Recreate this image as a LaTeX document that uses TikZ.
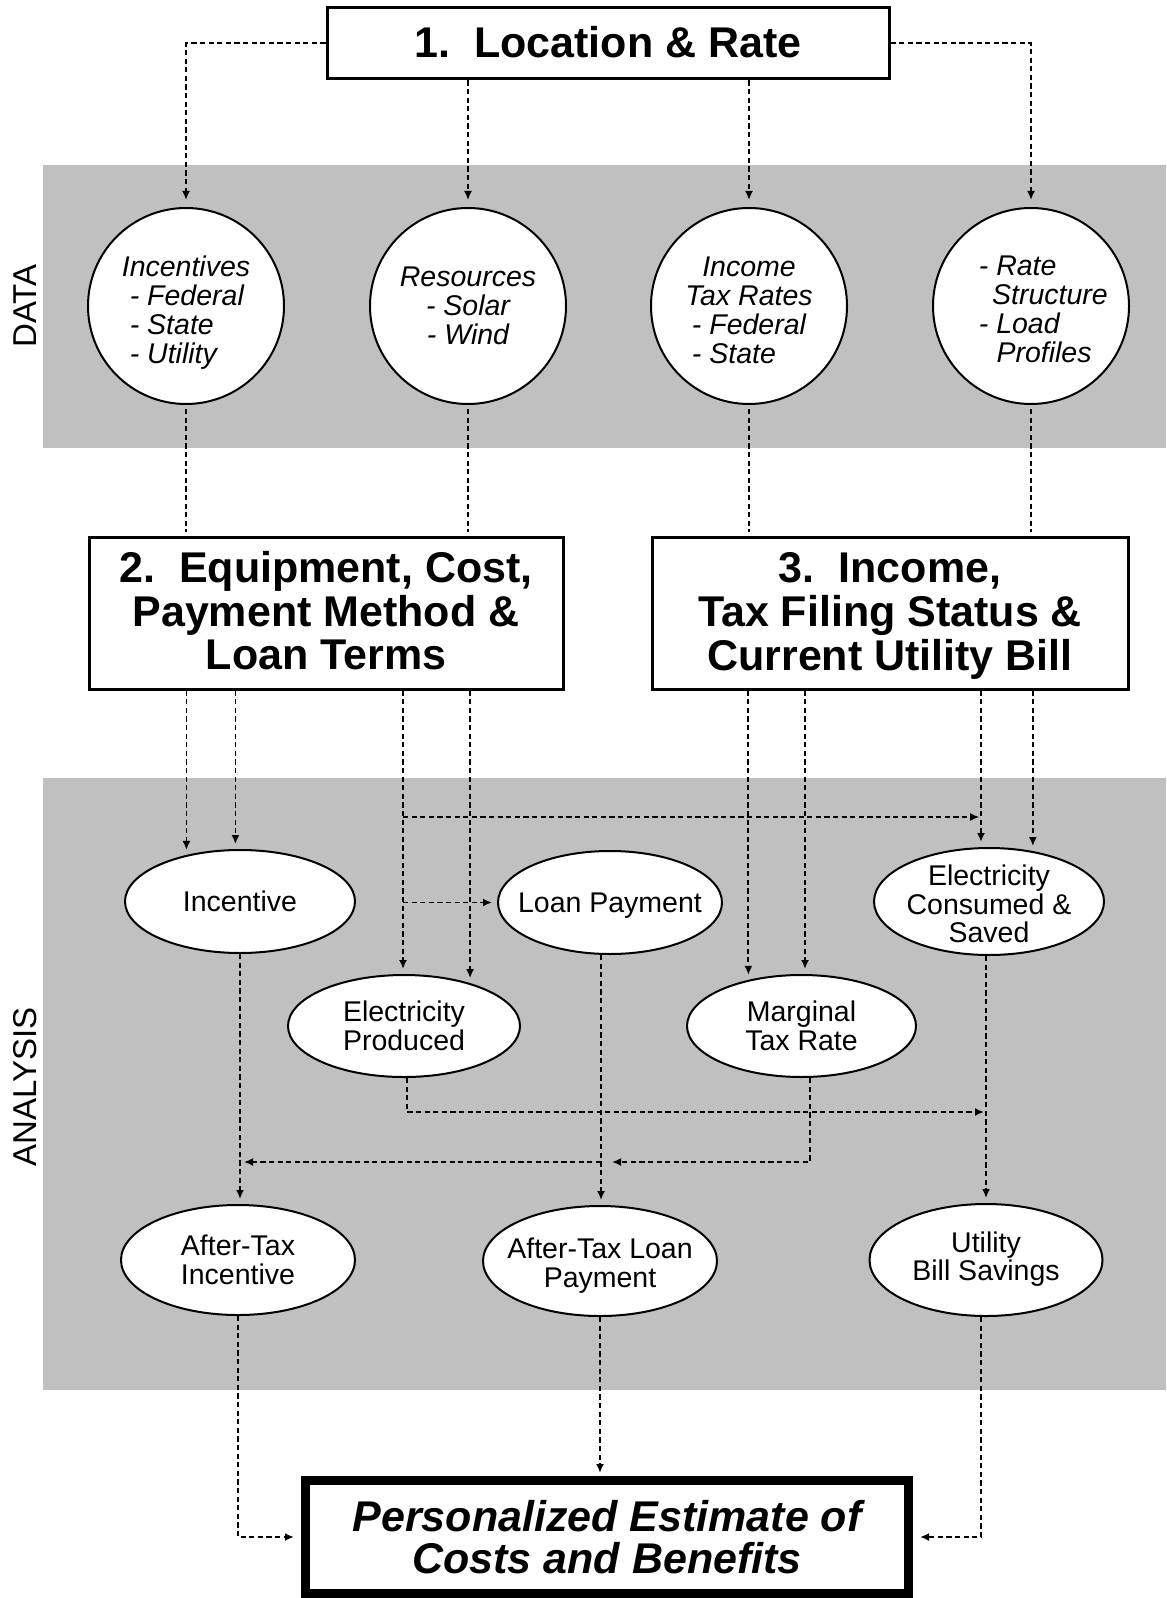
\documentclass[tikz,border=0pt]{standalone}
\usepackage{fontspec}
\setmainfont{Liberation Sans}
\usetikzlibrary{arrows.meta,shapes.geometric}
\definecolor{bandgray}{RGB}{192,192,192}
\begin{document}
\begin{tikzpicture}[x=0.5pt,y=-0.5pt,
  conn/.style={line width=0.9pt, dash pattern=on 2.6pt off 1.7pt},
  arr/.style={conn, -{Latex[length=4.5pt,width=4pt]}, shorten >=2.5pt},
  arrl/.style={conn, -{Latex[length=4.5pt,width=4pt]}},
  bigbox/.style={draw, line width=1.5pt, fill=white, inner sep=0pt, align=center,
     font=\bfseries\fontsize{21.5}{21.25}\selectfont},
  datac/.style={draw, circle, line width=1pt, fill=white, minimum size=98pt, inner sep=0pt},
  datat/.style={inner sep=0pt, font=\itshape\fontsize{14.25}{14.5}\selectfont},
  anae/.style={draw, ellipse, line width=1pt, fill=white, inner sep=0pt},
  anat/.style={inner sep=0pt, align=center, font=\fontsize{14.25}{14.25}\selectfont},
  sidelbl/.style={rotate=90, inner sep=0pt, font=\fontsize{16.5}{16.5}\selectfont}
]
\useasboundingbox (0,0) rectangle (1166,1598);
\fill[bandgray] (43,165) rectangle (1166,448);
\fill[bandgray] (43,778) rectangle (1166,1390);
\node[sidelbl] (datalbl) at (25.5,306) {DATA};
\node[sidelbl] (analbl) at (25.5,1087) {ANALYSIS};

% boxes
\node[bigbox, minimum width=281pt, minimum height=35.75pt] (box1) at (608,43.25) {\raisebox{0.5pt}[\height][\depth]{1.\ \ Location \& Rate}};
\node[bigbox, minimum width=237pt, minimum height=76pt] (box2) at (326,613) {\raisebox{-1.8pt}[\height][\depth]{\begin{tabular}{@{}c@{}}2.\ \ Equipment, Cost,\\Payment Method \&\\Loan Terms\end{tabular}}};
\node[bigbox, minimum width=238pt, minimum height=76pt] (box3) at (890,613) {\raisebox{-2.3pt}[\height][\depth]{\begin{tabular}{@{}c@{}}3.\ \ Income,\\Tax Filing Status \&\\Current Utility Bill\end{tabular}}};
\node[draw, line width=4.5pt, fill=white, inner sep=0pt, minimum width=301.5pt, minimum height=56.5pt,
      align=center, font=\bfseries\itshape\fontsize{21.5}{21}\selectfont] (final) at (607,1537)
      {Personalized Estimate of\\Costs and Benefits};

% data circles
\node[datac] (c1) at (186,306) {};
\node[datac] (c2) at (468,306) {};
\node[datac] (c3) at (749,306) {};
\node[datac] (c4) at (1031,306) {};
\node[datat, align=left] (c1t) at ([yshift=-3.5pt]c1.center) {Incentives\\\hspace*{4pt}- Federal\\\hspace*{4pt}- State\\\hspace*{4pt}- Utility};
\node[datat, align=center] (c2t) at (c2) {Resources\\- Solar\\- Wind};
\node[datat, align=center] (c3t) at ([yshift=-2pt]c3.center) {Income\\Tax Rates\\- Federal\\\rlap{- State}\hphantom{- Federal}};
\node[datat, align=left, anchor=west] (c4t) at ([xshift=-26.25pt,yshift=-1.5pt]c4.center) {- Rate\\\hspace*{6.6pt}Structure\\- Load\\\hspace*{8.8pt}Profiles};

% analysis ellipses
\node[anae, minimum width=115pt, minimum height=51.5pt] (incentive) at (240,901.5) {};
\node[anae, minimum width=112pt, minimum height=51.5pt] (loan) at (610,902.5) {};
\node[anae, minimum width=115pt, minimum height=53.5pt] (consumed) at (989,901.5) {};
\node[anae, minimum width=116pt, minimum height=51pt] (produced) at (404,1026) {};
\node[anae, minimum width=114.5pt, minimum height=51pt] (marginal) at (801.5,1026) {};
\node[anae, minimum width=117pt, minimum height=55pt] (atinc) at (238,1260) {};
\node[anae, minimum width=117pt, minimum height=55pt] (atloan) at (600,1261) {};
\node[anae, minimum width=116.5pt, minimum height=56pt] (ubs) at (986,1260) {};
\node[anat] (incentivet) at (incentive) {Incentive};
\node[anat] (loant) at ([yshift=-1.5pt]loan.center) {Loan Payment};
\node[anat] (consumedt) at ([yshift=-1.25pt]consumed.center) {Electricity\\Consumed \&\\Saved};
\node[anat] (producedt) at (produced) {Electricity\\Produced};
\node[anat] (marginalt) at (marginal) {Marginal\\Tax Rate};
\node[anat] (atinct) at (atinc) {After-Tax\\Incentive};
\node[anat] (atloant) at ([yshift=-2.25pt]atloan.center) {After-Tax Loan\\Payment};
\node[anat] (ubst) at ([yshift=0.5pt]ubs.center) {Utility\\Bill Savings};

% helper coordinates
\coordinate (pa) at (403,817);
\coordinate (m1) at ([xshift=1.75pt]marginal.north);
\coordinate (cna) at ([xshift=-4pt]consumed.north);
\coordinate (lb) at ([xshift=-4.5pt]loan.south);
\coordinate (pp) at ([xshift=1.5pt]produced.south);
\coordinate (cs) at ([xshift=-1.5pt]consumed.south);
\coordinate (mb) at ([xshift=4.25pt]marginal.south);
\coordinate (ub) at ([xshift=-2.5pt]ubs.south);
\coordinate (hy1) at (0,1112);
\coordinate (hy2) at (0,1162);

% top connectors
\draw[arr, shorten >=3.5pt] (box1.west) -| (c1.north);
\draw[arr, shorten >=3.5pt] (box1.south -| c2.north) -- (c2.north);
\draw[arr, shorten >=3.5pt] (box1.south -| c3.north) -- (c3.north);
\draw[arr, shorten >=3.5pt] (box1.east) -| (c4.north);

% data to boxes
\draw[conn, shorten <=2pt, shorten >=2pt] (c1.south) -- (c1.south |- box2.north);
\draw[conn, shorten <=2pt, shorten >=2pt] (c2.south) -- (c2.south |- box2.north);
\draw[conn, shorten <=2pt, shorten >=2pt] (c3.south) -- (c3.south |- box3.north);
\draw[conn, shorten <=2pt, shorten >=2pt] (c4.south) -- (c4.south |- box3.north);

% box 2 to analysis
\draw[arr] (incentive.139.9 |- box2.south) -- (incentive.139.9);
\draw[arr] (incentive.95.55 |- box2.south) -- (incentive.95.55);
\draw[arr] (pa |- box2.south) -- (produced.north -| pa);
\draw[arr] (produced.33.6 |- box2.south) -- (produced.33.6);
\draw[arrl, line width=0.6pt, shorten >=1pt] (pa) -- (pa -| cna);
\draw[arr] (loan.west -| pa) -- (loan.west);

% box 3 to analysis
\draw[arr] (marginal.139.2 |- box3.south) -- (marginal.139.2);
\draw[arr] (m1 |- box3.south) -- (m1);
\draw[arr] (cna |- box3.south) -- (cna);
\draw[arr] (consumed.49.85 |- box3.south) -- (consumed.49.85);

% inside analysis
\draw[arr] (incentive.south) -- (incentive.south |- atinc.north);
\draw[arr] (lb) -- (lb |- atloan.north);
\draw[arr] (cs) -- (cs |- ubs.north);
\draw[arrl, shorten >=1pt] (pp) |- (cs |- hy1);
\draw[arrl, shorten >=5.5pt] (mb) |- (lb |- hy2);
\draw[arrl, shorten >=2pt] (lb |- hy2) -- (incentive.south |- hy2);

% to final
\draw[arr, shorten >=3.5pt] (atinc.south) |- (final.west);
\draw[arr, shorten >=1.5pt] (atloan.south) -- (atloan.south |- final.north);
\draw[arr, shorten >=3.5pt] (ub) |- (final.east);
\end{tikzpicture}
\end{document}
